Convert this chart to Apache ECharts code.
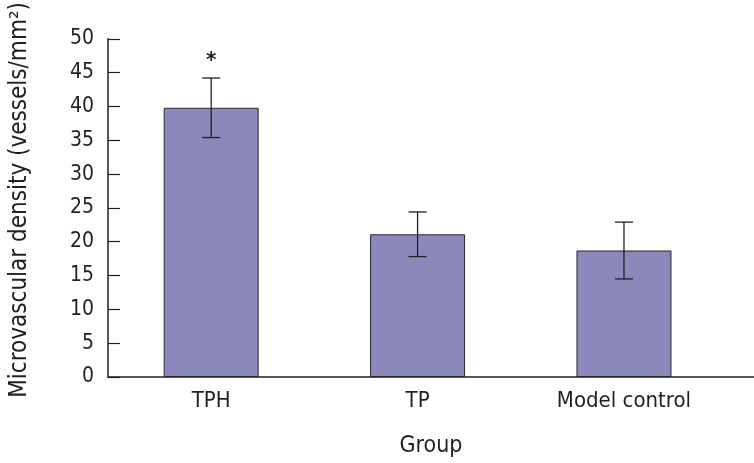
<!DOCTYPE html>
<html>
<head>
<meta charset="utf-8">
<script src="https://cdn.jsdelivr.net/npm/echarts@6/dist/echarts.min.js"></script>
<style>html,body{margin:0;padding:0;background:#fff;}#c{width:754px;height:463px;}</style>
</head>
<body>
<div id="c"></div>
<script>
const categories = ['TPH', 'TP', 'Model control'];
const means = [39.8, 21.1, 18.7];
const errors = [4.4, 3.3, 4.2];
const significance = ['*', '', ''];
const yTicks = [0, 5, 10, 15, 20, 25, 30, 35, 40, 45, 50];

const FONT = '"DejaVu Sans Condensed", "Liberation Sans", sans-serif';
const TXT = '#231f20';

const chart = echarts.init(document.getElementById('c'), null, {renderer: 'canvas'});
chart.setOption({
  backgroundColor: '#fff',
  animation: false,
  grid: {left: 106, right: 0, top: 36, bottom: 84, containLabel: false},
  xAxis: {
    type: 'value',
    min: -0.5,
    max: 2.63,
    interval: 0.5,
    splitLine: {show: false},
    axisTick: {show: false},
    axisLine: {onZero: false, lineStyle: {color: TXT, width: 1.5}},
    axisLabel: {
      color: TXT, fontFamily: FONT, fontSize: 22, margin: 13,
      showMinLabel: false, showMaxLabel: false,
      formatter: function (v) {
        const i = Math.round(v);
        return (Math.abs(v - i) < 1e-6 && categories[i] !== undefined) ? categories[i] : '';
      }
    },
    name: 'Group',
    nameLocation: 'middle',
    nameGap: 58,
    nameTextStyle: {color: TXT, fontFamily: FONT, fontSize: 23}
  },
  yAxis: {
    type: 'value',
    min: yTicks[0],
    max: yTicks[yTicks.length - 1],
    interval: 5,
    splitLine: {show: false},
    axisLine: {show: true, onZero: false, lineStyle: {color: TXT, width: 1.5}},
    axisTick: {show: true, inside: true, length: 12, lineStyle: {color: TXT, width: 1.2}},
    axisLabel: {color: TXT, fontFamily: FONT, fontSize: 21, margin: 14},
    name: 'Microvascular density (vessels/mm²)',
    nameLocation: 'middle',
    nameGap: 76,
    nameTextStyle: {color: TXT, fontFamily: FONT, fontSize: 24, padding: [0, 0, 0, 16]}
  },
  series: [
    {
      type: 'bar',
      barWidth: 95,
      data: means.map((m, i) => [i, m]),
      itemStyle: {color: '#8b89bb', borderColor: '#2a2630', borderWidth: 1}
    },
    {
      type: 'custom',
      data: means.map((m, i) => [i, m, errors[i]]),
      renderItem: function (params, api) {
        const x = api.value(0), m = api.value(1), e = api.value(2);
        const hi = api.coord([x, m + e]);
        const lo = api.coord([x, m - e]);
        const cap = 9;
        const st = {stroke: '#231f20', lineWidth: 1.3};
        const children = [
          {type: 'line', shape: {x1: hi[0], y1: hi[1], x2: lo[0], y2: lo[1]}, style: st},
          {type: 'line', shape: {x1: hi[0] - cap, y1: hi[1], x2: hi[0] + cap, y2: hi[1]}, style: st},
          {type: 'line', shape: {x1: lo[0] - cap, y1: lo[1], x2: lo[0] + cap, y2: lo[1]}, style: st}
        ];
        const s = significance[params.dataIndex];
        if (s) {
          children.push({type: 'text', x: hi[0], y: hi[1] - 6,
            style: {text: s, fill: TXT, font: 'bold 22px ' + FONT, textAlign: 'center', textVerticalAlign: 'bottom'}});
        }
        return {type: 'group', children: children};
      },
      z: 5
    }
  ]
});
</script>
</body>
</html>
